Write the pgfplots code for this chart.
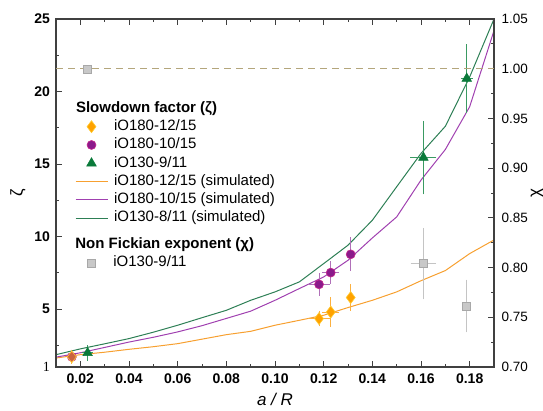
\documentclass[border=0pt]{standalone}
\usepackage{fontspec}
\setmainfont{Liberation Sans}
\newfontfamily\seriffont{Liberation Serif}
\usepackage{pgfplots}
\pgfplotsset{compat=1.18}
\definecolor{axgray}{HTML}{404040}
\definecolor{orL}{HTML}{F7A030}
\definecolor{orF}{HTML}{FFA200}
\definecolor{orE}{HTML}{FFCC33}
\definecolor{orB}{HTML}{FBB040}
\definecolor{puL}{HTML}{A040B0}
\definecolor{puF}{HTML}{8B1A8B}
\definecolor{puE}{HTML}{C8288C}
\definecolor{puB}{HTML}{B070B8}
\definecolor{grL}{HTML}{2D7F55}
\definecolor{grF}{HTML}{0A7A3A}
\definecolor{grB}{HTML}{3A9A62}
\definecolor{gyF}{HTML}{C8C8C8}
\definecolor{gyE}{HTML}{A8A8A8}
\definecolor{gyB}{HTML}{C4C4C4}
\definecolor{dashc}{HTML}{B4A67C}
\pgfplotsset{
  mylineleg/.style={legend image code/.code={\draw[##1] (0pt,0pt) -- (32pt,0pt);}},
  mymarkleg/.style={legend image code/.code={\path (0pt,0pt) (32pt,0pt); \draw[##1] plot coordinates {(16pt,0pt)};}},
  myhead/.style={legend image code/.code={\path (0pt,0pt) (32pt,0pt);}},
  common/.style={
    at={(0,0)}, anchor=south west, scale only axis, width=438pt, height=348pt,
    xmin=0.01, xmax=0.19,
    tick align=inside,
    major tick length=6pt, minor tick length=3.5pt,
    tick style={axgray, line width=0.9pt},
    axis line style={axgray, line width=1.1pt},
    legend cell align=left,
    legend style={anchor=north west, draw=none, fill=none, inner sep=0pt, outer sep=0pt,
      font=\fontsize{15}{15}\selectfont,
      nodes={inner sep=0pt, text height=11pt, text depth=3.5pt},
      row sep=3.8pt, column sep=6pt},
  },
}
\pgfplotstableread{
x y
0.01 1.62
0.02 1.85
0.03 2.02
0.04 2.22
0.05 2.40
0.06 2.61
0.07 2.92
0.08 3.23
0.09 3.46
0.10 3.88
0.11 4.22
0.12 4.57
0.13 5.10
0.14 5.60
0.15 6.18
0.16 6.95
0.17 7.65
0.18 8.82
0.19 9.76
}\simor
\pgfplotstableread{
x y
0.01 1.68
0.02 1.98
0.03 2.35
0.04 2.72
0.05 3.05
0.06 3.42
0.07 3.85
0.08 4.35
0.09 4.85
0.10 5.60
0.11 6.41
0.12 7.21
0.13 8.36
0.14 9.90
0.15 11.35
0.16 13.89
0.17 16.00
0.18 18.95
0.19 24.2
}\simpu
\pgfplotstableread{
x y
0.01 1.85
0.02 2.25
0.03 2.60
0.04 2.96
0.05 3.40
0.06 3.88
0.07 4.40
0.08 4.91
0.09 5.60
0.10 6.18
0.11 6.87
0.12 8.13
0.13 9.40
0.14 11.12
0.15 13.43
0.16 15.73
0.17 17.60
0.18 21.00
0.19 25.00
}\simgr
\begin{document}
\begin{tikzpicture}
\path[use as bounding box] (-56pt,-43.3pt) rectangle (487pt,367pt);
\begin{axis}[common,
  ymin=1, ymax=25,
  xtick={0.02,0.04,0.06,0.08,0.10,0.12,0.14,0.16,0.18},
  xticklabels={0.02,0.04,0.06,0.08,0.10,0.12,0.14,0.16,0.18},
  minor xtick={0.03,0.05,0.07,0.09,0.11,0.13,0.15,0.17},
  ytick={1,5,10,15,20,25},
  yticklabels={{\seriffont\mdseries 1},5,10,15,20,25},
  minor ytick={2.5,7.5,12.5,17.5,22.5},
  xtick pos=both, ytick pos=left,
  xticklabel style={font=\bfseries\fontsize{14}{14}\selectfont, yshift=-3pt},
  yticklabel style={font=\bfseries\fontsize{14}{14}\selectfont, xshift=-2.5pt},
  xlabel={\textit{a} / \textit{R}},
  xlabel style={at={(axis description cs:0.5,0)}, anchor=center, yshift=-32pt, font=\itshape\fontsize{17}{17}\selectfont},
  ylabel={ζ},
  ylabel style={at={(axis description cs:0,0.5)}, anchor=center, yshift=38pt, font=\fontsize{17}{17}\selectfont},
  legend style={at={(0.0434,0.764)}},
]
\addlegendimage{myhead}
\addlegendentry{\hspace*{-38pt}\textbf{Slowdown factor (ζ)}}
\addlegendimage{mymarkleg, only marks, mark=diamond*, mark size=6pt, mark options={fill=orF, draw=orE, line width=0.6pt}}
\addlegendentry{iO180-12/15}
\addlegendimage{mymarkleg, only marks, mark=*, mark size=4.5pt, mark options={fill=puF, draw=puE, line width=0.6pt}}
\addlegendentry{iO180-10/15}
\addlegendimage{mymarkleg, only marks, mark=triangle*, mark size=5.5pt, mark options={fill=grF, draw=grF, line width=0.6pt}}
\addlegendentry{iO130-9/11}
\addlegendimage{mylineleg, orL, line width=1pt}
\addlegendentry{iO180-12/15 (simulated)}
\addlegendimage{mylineleg, puL, line width=1pt}
\addlegendentry{iO180-10/15 (simulated)}
\addlegendimage{mylineleg, grL, line width=1pt}
\addlegendentry{iO130-8/11 (simulated)}

\addplot[forget plot, orL, line width=1pt] table[x=x,y=y]{\simor};
\addplot[forget plot, puL, line width=1pt] table[x=x,y=y]{\simpu};
\addplot[forget plot, grL, line width=1pt] table[x=x,y=y]{\simgr};

% purple circles
\addplot[forget plot, only marks, mark=*, mark size=4.5pt, mark options={fill=puF, draw=puE, line width=0.6pt},
  error bars/.cd, y dir=both, y explicit, x dir=both, x explicit,
  error bar style={puB, line width=1pt}, error mark options={puB, line width=1pt, mark size=3.5pt}]
  table[x=x,y=y,x error=ex,y error=ey]{
x y ex ey
0.1181 6.70 0.003 0.55
0.1229 7.51 0.002 0.55
};
\addplot[forget plot, only marks, mark=*, mark size=4.5pt, mark options={fill=puF, draw=puE, line width=0.6pt},
  error bars/.cd, y dir=both, y explicit,
  error bar style={puB, line width=1pt}, error mark options={puB, line width=1pt, mark size=3.5pt}]
  table[x=x,y=y,y error=ey]{
x y ey
0.0165 1.70 0.25
0.1311 8.77 0.92
};
% orange diamonds
\addplot[forget plot, only marks, mark=diamond*, mark size=6pt, mark options={fill=orF, draw=orE, line width=0.6pt},
  error bars/.cd, y dir=both, y explicit, x dir=both, x explicit,
  error bar style={orB, line width=1pt}, error mark options={orB, line width=1pt, mark size=3.5pt}]
  table[x=x,y=y,x error=ex,y error=ey]{
x y ex ey
0.1181 4.34 0.003 0.30
0.1229 4.79 0.002 0.78
};
\addplot[forget plot, only marks, mark=diamond*, mark size=6pt, mark options={fill=orF, draw=orE, line width=0.6pt, fill opacity=0.55},
  error bars/.cd, y dir=both, y explicit,
  error bar style={orB, line width=1pt}, error mark options={orB, line width=1pt, mark size=3.5pt}]
  table[x=x,y=y,y error=ey]{
x y ey
0.0165 1.70 0.25
};
\addplot[forget plot, only marks, mark=diamond*, mark size=6pt, mark options={fill=orF, draw=orE, line width=0.6pt},
  error bars/.cd, y dir=both, y explicit,
  error bar style={orB, line width=1pt}, error mark options={orB, line width=1pt, mark size=3.5pt}]
  table[x=x,y=y,y error=ey]{
x y ey
0.1311 5.79 0.68
};
% green triangles
\addplot[forget plot, only marks, mark=triangle*, mark size=5.5pt, mark options={fill=grF, draw=grF, line width=0.6pt},
  error bars/.cd, y dir=both, y explicit, x dir=both, x explicit,
  error bar style={grB, line width=1pt}, error mark options={grB, line width=1pt, mark size=3.5pt}]
  table[x=x,y=y,x error=ex,y error=ey]{
x y ex ey
0.0230 1.97 0.0008 0.30
0.1610 15.44 0.0039 2.30
0.1788 20.89 0.0010 2.14
};
\end{axis}

\begin{axis}[common,
  ymin=0.70, ymax=1.05,
  xtick=\empty,
  ytick={0.70,0.75,0.80,0.85,0.90,0.95,1.00,1.05},
  yticklabels={0.70,0.75,0.80,0.85,0.90,0.95,1.00,1.05},
  minor ytick={0.725,0.775,0.825,0.875,0.925,0.975,1.025},
  ytick pos=right, yticklabel pos=right,
  yticklabel style={font=\fontsize{13.5}{13.5}\selectfont, xshift=4pt},
  ylabel={χ},
  ylabel style={at={(axis description cs:1,0.5)}, anchor=center, yshift=-43pt, font=\fontsize{17}{17}\selectfont},
  legend style={at={(0.0434,0.3716)}},
]
\addlegendimage{myhead}
\addlegendentry{\hspace*{-38pt}\textbf{Non Fickian exponent (χ)}}
\addlegendimage{mymarkleg, only marks, mark=square*, mark size=4pt, mark options={fill=gyF, draw=gyE, line width=0.6pt}}
\addlegendentry{iO130-9/11}

\addplot[forget plot, dashc, dash pattern=on 7pt off 5pt, line width=1pt] coordinates {(0.01,1.0) (0.19,1.0)};
\addplot[forget plot, only marks, mark=square*, mark size=4pt, mark options={fill=gyF, draw=gyE, line width=0.6pt},
  error bars/.cd, y dir=both, y explicit, x dir=both, x explicit,
  error bar style={gyB, line width=1pt}, error mark options={gyB, line width=1pt, mark size=3.5pt}]
  table[x=x,y=y,x error=ex,y error=ey]{
x y ex ey
0.1610 0.804 0.0038 0.0325
};
\addplot[forget plot, only marks, mark=square*, mark size=4pt, mark options={fill=gyF, draw=gyE, line width=0.6pt},
  error bars/.cd, y dir=both, y explicit,
  error bar style={gyB, line width=1pt}, error mark options={gyB, line width=1pt, mark size=3.5pt}]
  table[x=x,y=y,y error=ey]{
x y ey
0.0230 0.9994 0
0.1788 0.7613 0.023
};
\end{axis}
\end{tikzpicture}
\end{document}
